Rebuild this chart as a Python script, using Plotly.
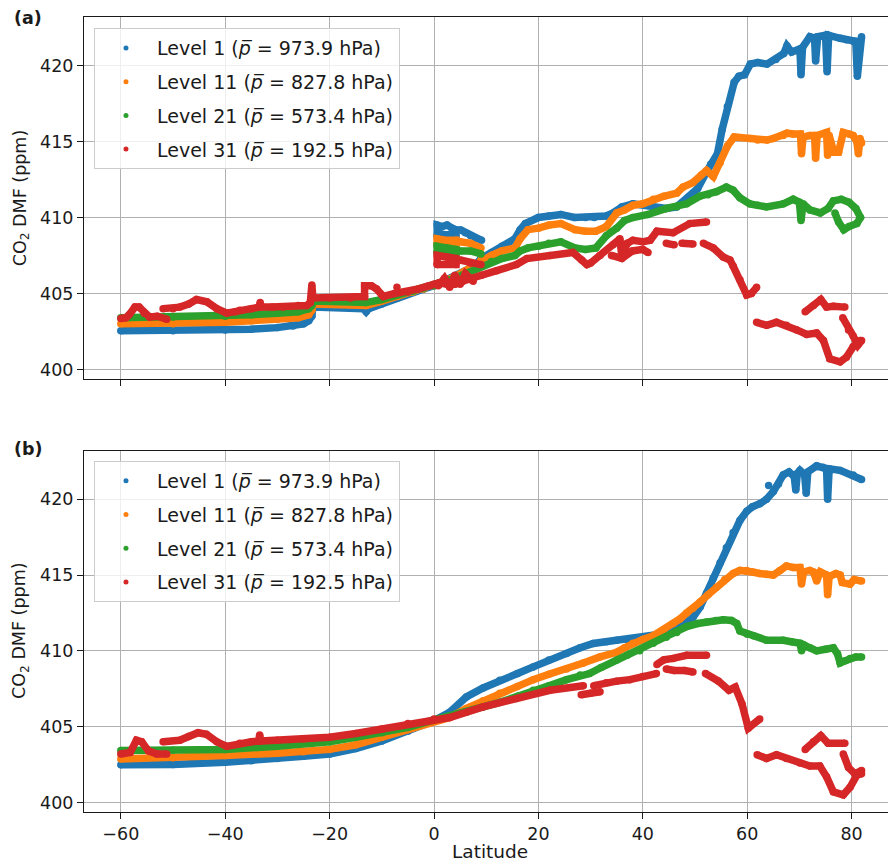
'''
CO2 dry mole fraction against latitude for four model levels, two panels.
'''
import plotly.graph_objects as go

# ---- data (None breaks a track into separate pieces) ----
levels = ["Level 1", "Level 11", "Level 21", "Level 31"]
pressures = ["973.9", "827.8", "573.4", "192.5"]
colors = ["#1f77b4", "#ff7f0e", "#2ca02c", "#d62728"]
lat_ticks = [-60, -40, -20, 0, 20, 40, 60, 80]
co2_ticks = [400, 405, 410, 415, 420]

# panel (a)
lat_a_l1 = [-60, -50, -40, -35, -30, -27, -25, -24, -23.4, -23.2, -20, -16, -13.5, -13, -12.5, -10, -7, -4, -2, 0,
            2, 4, 6, 8, 9, 11, 13, 15.5, 16.5, 17.5, 20, 22, 24.3, 26.9, 29, 30.7, 33, 34.3, 36, 38.1, 41, 44.5,
            46.5, 48.4, 50.5, 52.2, 53, 54.3, 55.2, 56.2, 57.5, 58.4, 59.5, 60.6, 62, 63.8, 65.5, 67, 67.6, 68.5,
            70.1, 70.3, 70.6, 72, 72.9, 73.1, 73.5, 75.0, 75.3, 75.6, 77.8, 79, 80.3, 80.8, 81.1, 81.9, None,
            0.6, 0.6, 1.5, 2.5, 3.5, 4.2, 4.2, 3, 1.5, 0.6, None,
            5.0, 6, 7, 8, 9.1]
co2_a_l1 = [402.55, 402.55, 402.6, 402.65, 402.75, 402.85, 403.0, 403.2, 403.5, 404.1, 404.1, 404.1, 404.0, 403.8,
            404.0, 404.3, 404.7, 405.1, 405.3, 405.5, 405.8, 406.1, 406.5, 406.9, 407.3, 407.7, 408.1, 408.6, 409.2,
            409.6, 410.0, 410.1, 410.2, 410.0, 410.0, 410.0, 410.1, 410.3, 410.7, 410.9, 410.8, 410.6, 410.7, 411.2,
            411.9, 413.0, 413.5, 414.2, 415.8, 417.3, 418.9, 419.3, 419.4, 420.1, 420.2, 420.1, 420.4, 420.8, 421.3,
            420.9, 421.1, 419.4, 421.2, 421.9, 421.8, 420.3, 421.9, 422.0, 419.6, 422.0, 421.8, 421.7, 421.6, 421.6,
            419.3, 421.9, None,
            408.8, 409.5, 409.4, 409.5, 409.3, 409.2, 408.8, 408.9, 408.9, 408.8, None,
            409.2, 409.0, 408.8, 408.6, 408.5]

lat_a_l11 = [-60, -50, -40, -35, -30, -26, -24, -23.4, -23.2, -20, -15, -13, -10, -7, -4, -2, 0, 2, 4, 6, 8, 9,
             11, 13, 15.5, 16.5, 18, 20, 22, 24.3, 27, 29, 31, 33, 35, 36.5, 38.1, 40, 42, 44, 46.5, 47.7, 49.6,
             51.2, 52.2, 53.5, 54.8, 56.2, 57.5, 60.5, 62, 63.8, 65, 66.9, 67.6, 68.8, 70.2, 70.4, 70.7, 72, 72.9,
             73.1, 73.4, 75.2, 75.4, 75.7, 76.6, 77.5, 78.4, 79.5, 80.3, 81, 81.3, 81.6, 81.9, None,
             0.6, 0.6, 2, 4.2, 4.2, 2, 0.6, None,
             5, 7, 9]
co2_a_l11 = [403.0, 403.0, 403.1, 403.2, 403.3, 403.4, 403.6, 403.9, 404.3, 404.3, 404.3, 404.2, 404.5, 404.8,
             405.1, 405.3, 405.5, 405.8, 406.1, 406.5, 406.9, 407.2, 407.5, 407.8, 408.0, 408.6, 409.2, 409.3,
             409.5, 409.6, 409.2, 409.1, 409.1, 409.4, 410.3, 410.5, 410.8, 410.9, 411.2, 411.4, 411.6, 412.0,
             412.3, 412.8, 413.1, 412.7, 413.6, 414.7, 415.3, 415.2, 415.1, 415.1, 415.2, 415.4, 415.55, 415.5,
             415.5, 414.2, 415.3, 415.4, 415.4, 413.9, 415.4, 415.6, 414.1, 415.4, 414.3, 414.3, 415.6, 415.5,
             415.4, 415.0, 414.2, 415.2, 414.9, None,
             408.2, 408.6, 408.5, 408.5, 408.2, 408.2, 408.2, None,
             408.4, 408.3, 408.0]

lat_a_l21 = [-60, -50, -40, -35, -30, -26, -24, -23.4, -23.2, -20, -15, -13, -10, -7, -4, -2, 0, 2, 4, 6, 8, 9,
             11, 13, 15.5, 16.5, 18, 20, 22, 24.3, 27, 29, 31, 33, 35, 36.5, 38.1, 41, 44.5, 46.5, 48.4, 50.9,
             52.5, 54.1, 56, 57.3, 58.6, 60.5, 62, 63.7, 66.9, 68.8, 70, 70.3, 70.7, 72, 74, 75.5, 76.5, 78, 79.5,
             80.8, 81.7, 81, 79.5, 78.5, 77.5, 76.8, None,
             0.6, 0.6, 2.5, 4.2, 4.2, 0.6, None,
             5, 7, 9]
co2_a_l21 = [403.4, 403.45, 403.5, 403.6, 403.7, 403.8, 404.0, 404.2, 404.5, 404.5, 404.5, 404.4, 404.6, 404.9,
             405.15, 405.35, 405.5, 405.7, 406.0, 406.3, 406.6, 406.8, 407.1, 407.3, 407.5, 407.8, 408.0, 408.1,
             408.3, 408.4, 408.0, 407.9, 408.0, 408.8, 409.3, 409.8, 410.0, 410.2, 410.6, 410.7, 410.9, 411.4,
             411.5, 411.7, 412.0, 411.8, 411.3, 410.9, 410.8, 410.7, 410.9, 411.2, 411.0, 409.8, 410.9, 410.5,
             410.3, 410.6, 411.1, 411.2, 411.0, 410.6, 410.0, 409.6, 409.4, 409.2, 409.7, 410.3, None,
             407.7, 408.1, 408.0, 407.9, 407.6, 407.7, None,
             407.8, 407.8, 407.6]

lat_a_l31 = [-60, -59, -58.4, -57.3, -56.5, -55.5, -54.5, -53, -51.2, None,
             -51.9, -50, -48.7, -47, -45.5, -43.5, -41.6, -39.7, -38, -37.2, -35, -33.5, -33.3, -33.1, -31, -28.9,
             -26, -24.4, -23.7, -23.4, -23.2, -20, -16, -13.3, -13.3, -12, -11, -10, -9.7, -7.5, -5, -3, -1, 0, 1,
             2.5, 4, 5.5, 7, 9.1, 12, 15.8, 17.8, 22.2, 26.6, 28.3, 29.3, 30, 31.8, 34.3, 35.6, 36, 37, 38.1, 40,
             41.4, 42.7, 45.8, 49, 52.2, None,
             -7.1, None,
             0.6, 0.6, 2.5, 4.2, 4.2, 0.6, None,
             5, 7, 9, None,
             0.8, 2, 3, 4, 5, 6, 7.5, None,
             34, 36, 38, 40, 41, None,
             44.5, 46, None,
             47.5, 49.6, None,
             51.6, 53.5, 55.4, 56.7, 57.3, 58.6, 59.9, 60.8, 61.8, None,
             61.8, 63.7, 65.6, 67.5, 69.5, 71.4, 73.3, 74.6, 75.8, 77.8, 79, 80.3, 81.6, None,
             71.1, 72.7, 74.1, 75.2, 76.5, 78.7, None,
             78.3, 79.4, 80.3, 81.2, 81.9]
co2_a_l31 = [403.35, 403.4, 403.6, 404.1, 404.1, 403.7, 403.45, 403.5, 403.3, None,
             404.0, 404.0, 404.1, 404.3, 404.6, 404.45, 404.0, 403.7, 403.8, 403.9, 404.0, 404.1, 404.4, 404.1,
             404.1, 404.1, 404.2, 404.2, 404.4, 405.55, 404.7, 404.7, 404.7, 404.8, 405.5, 405.5, 405.3, 404.9,
             404.8, 405.0, 405.1, 405.3, 405.5, 405.6, 405.7, 405.6, 405.6, 405.8, 406.0, 406.2, 406.5, 406.9,
             407.3, 407.5, 407.7, 407.2, 406.9, 407.0, 407.5, 408.2, 408.6, 407.4, 408.3, 408.5, 408.4, 408.5,
             409.1, 409.0, 409.6, 409.7, None,
             405.4, None,
             406.9, 407.5, 407.4, 407.3, 406.9, 406.9, None,
             407.2, 407.0, 406.9, None,
             405.5, 406.0, 405.4, 406.2, 405.6, 406.3, 405.8, None,
             407.5, 407.3, 407.8, 407.9, 407.7, None,
             408.3, 408.2, None,
             408.3, 408.25, None,
             408.3, 408.0, 407.4, 407.2, 406.8, 405.9, 404.9, 405.0, 405.4, None,
             403.1, 402.9, 403.1, 402.9, 402.6, 402.3, 402.4, 401.9, 400.7, 400.5, 400.8, 401.5, 401.9, None,
             403.8, 404.2, 404.6, 404.1, 404.15, 404.1, None,
             403.4, 402.6, 402.2, 401.6, 401.9]

# panel (b)
lat_b_l1 = [-60, -50, -40, -35, -30, -25, -20, -15, -10, -5, 0, 3, 6.2, 9.4, 12.6, 16, 19, 22, 25.4, 28, 30.5, 33,
            35, 37, 39.4, 41, 43.3, 45, 47.1, 48.5, 49.6, 51, 52.2, 53.5, 54.8, 56, 57.3, 58.6, 59.9, 61, 62.4,
            63.7, 65, 66, 66.9, 68, 69, 69.3, 69.6, 70.1, 71, 71.3, 71.6, 73.3, 74.5, 75.2, 75.4, 75.7, 77.8, 80.3,
            81.9, None,
            64.1]
co2_b_l1 = [402.48, 402.5, 402.65, 402.75, 402.9, 403.05, 403.2, 403.55, 404.05, 404.7, 405.4, 405.95, 406.96,
            407.55, 408.06, 408.5, 408.94, 409.4, 409.82, 410.2, 410.48, 410.6, 410.7, 410.75, 410.8, 410.9, 411.1,
            411.3, 411.6, 411.9, 412.2, 412.9, 413.8, 414.8, 415.8, 416.8, 417.8, 418.6, 419.2, 419.5, 419.7,
            420.0, 420.5, 421.0, 421.6, 421.8, 421.5, 420.6, 421.7, 421.9, 421.6, 420.4, 421.8, 422.2, 422.1,
            422.0, 420.0, 422.0, 421.9, 421.6, 421.3, None,
            420.9]

lat_b_l11 = [-60, -50, -40, -30, -25, -20, -15, -10, -5, 0, 3, 6.2, 9.4, 12.6, 16, 19, 22, 25.4, 28.6, 31.8, 35,
             36.5, 38.1, 40, 42, 44, 45.8, 47.1, 48.4, 49.6, 50.9, 52.5, 54.1, 55.7, 57.3, 58.6, 59.9, 61, 62.4,
             63.7, 65, 66.3, 67.5, 68.8, 70.1, 70.4, 70.8, 72, 72.7, 73.3, 74, 75.2, 75.4, 75.7, 77, 77.8, 78.2,
             79.7, 80.5, 81.9]
co2_b_l11 = [402.87, 402.95, 403.1, 403.25, 403.35, 403.5, 403.8, 404.3, 404.8, 405.4, 405.6, 406.2, 406.7,
             407.2, 407.65, 408.1, 408.45, 408.8, 409.2, 409.6, 409.9, 410.2, 410.5, 410.75, 411.0, 411.4, 411.8,
             412.1, 412.5, 412.8, 413.2, 413.7, 414.2, 414.7, 415.1, 415.3, 415.3, 415.2, 415.1, 415.05, 415.0,
             415.3, 415.6, 415.5, 415.5, 414.4, 415.2, 415.3, 415.2, 414.6, 415.2, 415.0, 413.7, 414.9, 415.1,
             415.0, 414.5, 414.4, 414.7, 414.6]

lat_b_l21 = [-60, -50, -40, -30, -20, -15, -10, -5, 0, 3, 6.2, 9.4, 12.6, 16, 19, 22, 25.4, 28, 29.8, 32, 35, 37,
             39.4, 42, 44.5, 46.5, 48.4, 50.5, 52.2, 54, 55.4, 57, 58, 58.6, 60, 61.2, 63.7, 66.9, 68.5, 70.1,
             70.4, 70.8, 72, 73.3, 75, 76.5, 77.3, 77.8, 78.8, 79.7, 80.8, 81.9]
co2_b_l21 = [403.42, 403.45, 403.5, 403.7, 404.0, 404.3, 404.6, 404.95, 405.45, 405.7, 405.95, 406.3, 406.6,
             407.0, 407.4, 407.7, 408.1, 408.4, 408.5, 408.9, 409.4, 409.7, 410.0, 410.5, 410.9, 411.2, 411.6,
             411.8, 411.9, 412.0, 412.05, 412.0, 411.8, 411.3, 411.1, 411.0, 410.7, 410.7, 410.6, 410.5, 410.0,
             410.4, 410.2, 410.0, 410.1, 410.2, 409.8, 409.2, 409.35, 409.5, 409.6, 409.6]

lat_b_l31 = [-60, -58.2, -57, -56, -54.7, -53.1, -51.2, None,
             -51.9, -48.7, -47, -45.2, -43.6, -41.6, -39.7, -37.2, -35, -33.6, -33.4, -33.2, -30, -25, -20, -15,
             -10, -5, 0, 3, 9.4, 15.8, 22.2, 28.6, None,
             28.2, 30, 31.8, None,
             30.6, 33, 35, 37.5, 40, 42.6, None,
             42.7, 44, 45.8, 48.4, 52.2, None,
             44.5, 46, 48, 49.6, None,
             52, 54.5, 56.5, 57.7, 59, 60.2, 62.4, None,
             61.9, 63.7, 65.6, 67.5, 70.1, 72, 73.9, 75.2, 76.5, 78.4, 79.7, 81, 81.9, None,
             71.1, 72.7, 74.1, 75.5, 78.7, None,
             78.4, 79.4, 80.6, 81.9]
co2_b_l31 = [403.2, 403.3, 404.1, 404.0, 403.4, 403.2, 403.2, None,
             404.0, 404.1, 404.35, 404.6, 404.5, 404.0, 403.7, 403.9, 404.0, 404.05, 404.45, 404.05, 404.1,
             404.2, 404.3, 404.55, 404.85, 405.2, 405.5, 405.6, 406.3, 406.85, 407.4, 407.7, None,
             407.1, 407.2, 407.3, None,
             407.7, 407.9, 408.0, 408.1, 408.3, 408.5, None,
             409.1, 409.4, 409.5, 409.7, 409.7, None,
             408.8, 408.7, 408.7, 408.6, None,
             408.5, 408.0, 407.4, 407.6, 406.5, 404.9, 405.5, None,
             403.15, 402.9, 403.15, 402.9, 402.6, 402.4, 402.4, 401.7, 400.7, 400.5, 401.0, 401.8, 401.9, None,
             403.5, 404.0, 404.4, 403.9, 403.9, None,
             403.2, 402.3, 401.9, 402.1]

panel_a = [(lat_a_l1, co2_a_l1), (lat_a_l11, co2_a_l11), (lat_a_l21, co2_a_l21), (lat_a_l31, co2_a_l31)]
panel_b = [(lat_b_l1, co2_b_l1), (lat_b_l11, co2_b_l11), (lat_b_l21, co2_b_l21), (lat_b_l31, co2_b_l31)]

FONT = "DejaVu Sans"
FS = 17.5
LEG_FS = 19
INK = "#1a1a1a"

fig = go.Figure()

for suffix, legend, panel in [("", "legend", panel_a), ("2", "legend2", panel_b)]:
    for ii, (lat, co2) in enumerate(panel):
        fig.add_trace(go.Scatter(
            x=lat, y=co2, mode="lines+markers",
            line=dict(color=colors[ii], width=7.5),
            marker=dict(color=colors[ii], size=7.5),
            xaxis="x" + suffix, yaxis="y" + suffix,
            showlegend=False, hoverinfo="skip",
        ))
    # legend-only entries, small dots like the scatter legend
    for ii in range(len(levels)):
        fig.add_trace(go.Scatter(
            x=[None], y=[None], mode="markers",
            marker=dict(color=colors[ii], size=5),
            name=f"{levels[ii]} (<i>p\u0305</i> = {pressures[ii]} hPa)",
            legend=legend, legendgroup=f"{legend}_{ii}",
            xaxis="x" + suffix, yaxis="y" + suffix,
        ))

axis_common = dict(
    showgrid=True, gridcolor="#b0b0b0", gridwidth=1,
    showline=True, linecolor=INK, linewidth=1,
    ticks="outside", ticklen=6, tickcolor=INK, tickwidth=1,
    zeroline=False, automargin=False,
    tickfont=dict(family=FONT, size=FS, color=INK),
)
xrange = [-67.05, 88.5]
yrange = [399.37, 423.2]

legend_common = dict(
    bgcolor="rgba(255,255,255,0.8)", bordercolor="#cccccc", borderwidth=1,
    font=dict(family=FONT, size=LEG_FS, color=INK),
    xanchor="left", yanchor="top", x=0.0123,
    itemwidth=52, traceorder="grouped", tracegroupgap=6,
)

# the page body adds an 8 px offset, so the figure is 8 px smaller on each side
fig.update_layout(
    width=888, height=857,
    margin=dict(l=76, r=0, t=9, b=53),
    paper_bgcolor="white", plot_bgcolor="white",
    font=dict(family=FONT, size=FS, color=INK),
    xaxis=dict(axis_common, domain=[0, 1], anchor="y", range=xrange, tickvals=lat_ticks,
               showticklabels=False, mirror=True),
    yaxis=dict(axis_common, domain=[0.5447, 1], anchor="x", range=yrange, tickvals=co2_ticks),
    xaxis2=dict(axis_common, domain=[0, 1], anchor="y2", range=xrange, tickvals=lat_ticks, mirror=True),
    yaxis2=dict(axis_common, domain=[0, 0.4545], anchor="x2", range=yrange, tickvals=co2_ticks),
    legend=dict(legend_common, y=0.986),
    legend2=dict(legend_common, y=0.4415),
    annotations=[
        dict(text="<b>(a)</b>", xref="paper", yref="paper", x=-0.0887, y=0.9985,
             xanchor="left", yanchor="middle", showarrow=False, font=dict(size=FS)),
        dict(text="<b>(b)</b>", xref="paper", yref="paper", x=-0.0887, y=0.4566,
             xanchor="left", yanchor="middle", showarrow=False, font=dict(size=FS)),
        dict(text="CO<sub>2</sub> DMF (ppm)", xref="paper", yref="paper", x=-0.0776, y=0.772,
             textangle=-90, xanchor="center", yanchor="middle", showarrow=False, font=dict(size=FS)),
        dict(text="CO<sub>2</sub> DMF (ppm)", xref="paper", yref="paper", x=-0.0776, y=0.2277,
             textangle=-90, xanchor="center", yanchor="middle", showarrow=False, font=dict(size=FS)),
        dict(text="Latitude", xref="paper", yref="paper", x=0.5, y=-0.0503,
             xanchor="center", yanchor="middle", showarrow=False, font=dict(size=18.5)),
    ],
)

fig.write_html("out.html")
